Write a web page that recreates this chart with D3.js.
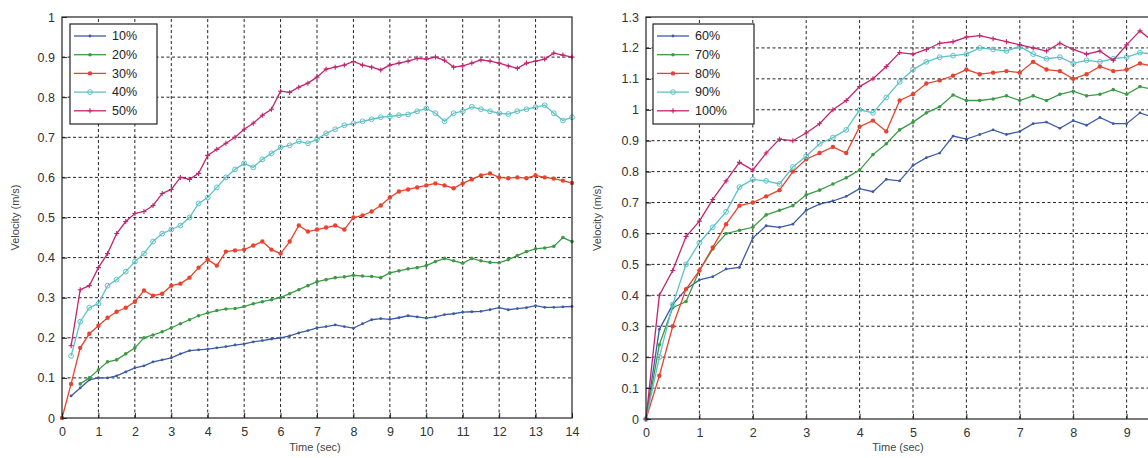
<!DOCTYPE html>
<html>
<head>
<meta charset="utf-8">
<script src="https://cdn.jsdelivr.net/npm/d3@7"></script>
<style>
  body { margin: 0; background: #fff; }
  svg { display: block; font-family: "Liberation Sans", Arial, sans-serif; }
</style>
</head>
<body>
<svg id="chart" width="1148" height="458"></svg>
<script>
// time step of the sampled curves (sec)
const dtLeft = 0.25;
const dtRight = 0.25;

// left panel: 10% .. 50%
const leftLabels = ["10%", "20%", "30%", "40%", "50%"];
const v10 = [null, 0.055, 0.075, 0.095, 0.1, 0.1, 0.105, 0.115, 0.125, 0.13, 0.14, 0.145, 0.15, 0.16, 0.168, 0.17, 0.172, 0.175, 0.178, 0.182, 0.185, 0.19, 0.193, 0.197, 0.2, 0.205, 0.212, 0.218, 0.225, 0.228, 0.232, 0.228, 0.224, 0.235, 0.245, 0.248, 0.246, 0.25, 0.255, 0.252, 0.249, 0.252, 0.258, 0.26, 0.264, 0.265, 0.266, 0.27, 0.275, 0.27, 0.273, 0.275, 0.28, 0.276, 0.276, 0.277, 0.278];
const v20 = [null, null, 0.085, 0.1, 0.12, 0.14, 0.145, 0.16, 0.175, 0.2, 0.207, 0.215, 0.225, 0.235, 0.245, 0.255, 0.262, 0.268, 0.272, 0.273, 0.278, 0.285, 0.29, 0.295, 0.3, 0.31, 0.32, 0.33, 0.34, 0.345, 0.35, 0.352, 0.356, 0.354, 0.353, 0.35, 0.362, 0.367, 0.372, 0.375, 0.38, 0.39, 0.398, 0.392, 0.386, 0.398, 0.392, 0.388, 0.387, 0.395, 0.405, 0.415, 0.422, 0.424, 0.428, 0.45, 0.44];
const v30 = [0, 0.085, 0.175, 0.21, 0.23, 0.25, 0.265, 0.275, 0.29, 0.318, 0.305, 0.31, 0.33, 0.335, 0.35, 0.375, 0.395, 0.38, 0.415, 0.418, 0.42, 0.43, 0.44, 0.42, 0.41, 0.44, 0.48, 0.465, 0.47, 0.475, 0.48, 0.47, 0.5, 0.505, 0.515, 0.53, 0.55, 0.565, 0.57, 0.575, 0.58, 0.585, 0.58, 0.573, 0.585, 0.595, 0.605, 0.61, 0.6, 0.598, 0.6, 0.598, 0.605, 0.6, 0.597, 0.592, 0.586];
const v40 = [null, 0.155, 0.24, 0.275, 0.285, 0.33, 0.345, 0.365, 0.39, 0.41, 0.44, 0.46, 0.47, 0.48, 0.5, 0.535, 0.55, 0.575, 0.6, 0.62, 0.635, 0.625, 0.645, 0.66, 0.675, 0.68, 0.69, 0.685, 0.695, 0.71, 0.72, 0.73, 0.735, 0.74, 0.745, 0.75, 0.752, 0.755, 0.757, 0.765, 0.772, 0.76, 0.74, 0.76, 0.765, 0.776, 0.77, 0.765, 0.76, 0.758, 0.765, 0.77, 0.775, 0.78, 0.76, 0.742, 0.75];
const v50 = [null, 0.18, 0.32, 0.33, 0.375, 0.41, 0.46, 0.49, 0.51, 0.515, 0.53, 0.56, 0.57, 0.6, 0.595, 0.61, 0.655, 0.67, 0.685, 0.7, 0.72, 0.735, 0.755, 0.77, 0.815, 0.812, 0.825, 0.835, 0.85, 0.87, 0.875, 0.88, 0.889, 0.88, 0.875, 0.868, 0.88, 0.885, 0.89, 0.897, 0.895, 0.9, 0.892, 0.875, 0.878, 0.885, 0.893, 0.89, 0.885, 0.878, 0.872, 0.885, 0.89, 0.895, 0.91, 0.905, 0.9];

// right panel: 60% .. 100%
const rightLabels = ["60%", "70%", "80%", "90%", "100%"];
const v60 = [0, 0.29, 0.37, 0.42, 0.45, 0.46, 0.485, 0.49, 0.585, 0.625, 0.62, 0.63, 0.675, 0.695, 0.705, 0.72, 0.745, 0.735, 0.775, 0.77, 0.82, 0.845, 0.86, 0.915, 0.905, 0.92, 0.935, 0.92, 0.93, 0.955, 0.96, 0.94, 0.965, 0.95, 0.975, 0.955, 0.955, 0.99, 0.975];
const v70 = [0, 0.24, 0.36, 0.38, 0.48, 0.55, 0.6, 0.61, 0.62, 0.66, 0.675, 0.69, 0.725, 0.74, 0.76, 0.78, 0.805, 0.855, 0.89, 0.935, 0.96, 0.99, 1.01, 1.048, 1.03, 1.03, 1.035, 1.045, 1.03, 1.045, 1.03, 1.05, 1.06, 1.045, 1.05, 1.065, 1.05, 1.075, 1.065];
const v80 = [0, 0.14, 0.3, 0.42, 0.48, 0.555, 0.63, 0.69, 0.7, 0.72, 0.74, 0.8, 0.84, 0.86, 0.88, 0.86, 0.945, 0.965, 0.93, 1.03, 1.05, 1.085, 1.095, 1.11, 1.13, 1.115, 1.12, 1.125, 1.12, 1.155, 1.13, 1.125, 1.1, 1.115, 1.14, 1.125, 1.13, 1.15, 1.14];
const v90 = [0, 0.2, 0.37, 0.5, 0.57, 0.62, 0.67, 0.75, 0.775, 0.77, 0.76, 0.815, 0.85, 0.89, 0.91, 0.935, 1.0, 0.99, 1.04, 1.09, 1.13, 1.155, 1.17, 1.175, 1.18, 1.2, 1.195, 1.19, 1.205, 1.18, 1.165, 1.17, 1.15, 1.16, 1.155, 1.165, 1.17, 1.185, 1.18];
const v100 = [0, 0.4, 0.48, 0.59, 0.64, 0.71, 0.77, 0.83, 0.805, 0.86, 0.905, 0.9, 0.925, 0.955, 1.0, 1.03, 1.075, 1.1, 1.14, 1.185, 1.18, 1.195, 1.215, 1.22, 1.235, 1.24, 1.23, 1.22, 1.21, 1.2, 1.19, 1.215, 1.195, 1.18, 1.19, 1.16, 1.21, 1.255, 1.22];

// tick labels (the right panel runs to 10 s, which falls just past the picture's edge)
const xTicksLeft = d3.range(0, 15);
const yTicksLeft = d3.range(0, 11).map(d => d / 10);
const xTicksRight = d3.range(0, 10);
const yTicksRight = d3.range(0, 14).map(d => d / 10);

const colors = ["#3b5ba6", "#3d9a46", "#e8432e", "#5cc2c8", "#c2256e"];
const markers = ["dot", "star", "bigdot", "circle", "plus"];

const svg = d3.select("#chart");
svg.append("rect").attr("width", 1148).attr("height", 458).attr("fill", "#fff");

function drawPanel(opt) {
  const x = d3.scaleLinear().domain(opt.xDomain).range(opt.xRange);
  const y = d3.scaleLinear().domain(opt.yDomain).range(opt.yRange);
  const g = svg.append("g");
  const [x0, x1] = opt.xRange;
  const [y0, y1] = opt.yRange;
  const inside = (d, dom) => d > dom[0] && d < dom[1];

  // dotted grid
  g.append("g").selectAll("line").data(opt.xTicks.filter(d => inside(d, opt.xDomain))).enter().append("line")
    .attr("x1", d => x(d)).attr("x2", d => x(d)).attr("y1", y0).attr("y2", y1)
    .attr("stroke", "#222").attr("stroke-dasharray", "3,2.5");
  g.append("g").selectAll("line").data(opt.yTicks.filter(d => inside(d, opt.yDomain))).enter().append("line")
    .attr("y1", d => y(d)).attr("y2", d => y(d)).attr("x1", x0).attr("x2", x1)
    .attr("stroke", "#222").attr("stroke-dasharray", "3,2.5");

  // series
  opt.series.forEach((vals, i) => {
    const pts = vals.map((v, k) => ({ t: k * opt.dt, v: v })).filter(d => d.v !== null);
    g.append("path").datum(pts)
      .attr("fill", "none").attr("stroke", colors[i]).attr("stroke-width", 1.3)
      .attr("d", d3.line().x(d => x(d.t)).y(d => y(d.v)));
    const m = g.append("g").selectAll("g").data(pts).enter().append("g")
      .attr("transform", d => "translate(" + x(d.t) + "," + y(d.v) + ")");
    drawMarker(m, markers[i], colors[i]);
  });

  // frame with inward ticks
  g.append("rect").attr("x", x0).attr("y", y1).attr("width", x1 - x0).attr("height", y0 - y1)
    .attr("fill", "none").attr("stroke", "#222").attr("stroke-width", 1.2);
  const axB = d3.axisBottom(x).tickValues(opt.xTicks).tickSize(-5).tickPadding(9).tickFormat(d3.format("d"));
  const axL = d3.axisLeft(y).tickValues(opt.yTicks).tickSize(-5).tickPadding(7).tickFormat(d => String(+d.toFixed(1)));
  const gb = g.append("g").attr("transform", "translate(0," + y0 + ")").call(axB);
  const gl = g.append("g").attr("transform", "translate(" + x0 + ",0)").call(axL);
  [gb, gl].forEach(a => {
    a.select(".domain").remove();
    a.selectAll("line").attr("stroke", "#222");
    a.selectAll("text").attr("fill", "#333").style("font-size", "12.5px");
  });

  // axis titles
  g.append("text").attr("x", opt.xTitleX).attr("y", 451).attr("text-anchor", "middle")
    .attr("fill", "#444").style("font-size", "11px").text("Time (sec)");
  g.append("text").attr("transform", "translate(" + opt.yTitleX + "," + ((y0 + y1) / 2) + ") rotate(-90)")
    .attr("text-anchor", "middle").attr("fill", "#444").style("font-size", "11px").text("Velocity (m/s)");

  // legend
  const lg = g.append("g").attr("transform", "translate(" + opt.legend[0] + "," + opt.legend[1] + ")");
  lg.append("rect").attr("width", opt.legend[2]).attr("height", 100)
    .attr("fill", "#fff").attr("stroke", "#222").attr("stroke-width", 1.2);
  const items = lg.selectAll(".item").data(opt.labels).enter().append("g")
    .attr("transform", (d, i) => "translate(0," + (12 + i * 18.7) + ")");
  items.append("line").attr("x1", 4).attr("x2", 36).attr("stroke", (d, i) => colors[i]).attr("stroke-width", 1.3);
  items.each(function (d, i) {
    const mk = d3.select(this).append("g").attr("transform", "translate(20,0)");
    drawMarker(mk, markers[i], colors[i]);
  });
  items.append("text").attr("x", 42).attr("dy", "0.35em").attr("fill", "#222")
    .style("font-size", "12.5px").text(d => d);
}

function drawMarker(sel, type, c) {
  if (type === "dot") {
    sel.append("circle").attr("r", 1.4).attr("fill", c);
  } else if (type === "star") {
    sel.append("circle").attr("r", 1.8).attr("fill", c);
  } else if (type === "bigdot") {
    sel.append("circle").attr("r", 2.2).attr("fill", c);
  } else if (type === "circle") {
    sel.append("circle").attr("r", 2.4).attr("fill", "none").attr("stroke", c).attr("stroke-width", 1);
  } else {
    sel.append("path").attr("d", "M-2.5,0H2.5M0,-2.5V2.5").attr("stroke", c).attr("stroke-width", 1.1);
  }
}

drawPanel({
  xDomain: [0, 14], xRange: [62, 572], yDomain: [0, 1], yRange: [418, 17],
  xTicks: xTicksLeft, yTicks: yTicksLeft, dt: dtLeft,
  series: [v10, v20, v30, v40, v50], labels: leftLabels,
  xTitleX: 315, yTitleX: 19, legend: [70, 24, 87]
});

drawPanel({
  xDomain: [0, 10], xRange: [646, 1180], yDomain: [0, 1.3], yRange: [419, 17],
  xTicks: xTicksRight, yTicks: yTicksRight, dt: dtRight,
  series: [v60, v70, v80, v90, v100], labels: rightLabels,
  xTitleX: 898, yTitleX: 601, legend: [653, 24, 101]
});
</script>
</body>
</html>
